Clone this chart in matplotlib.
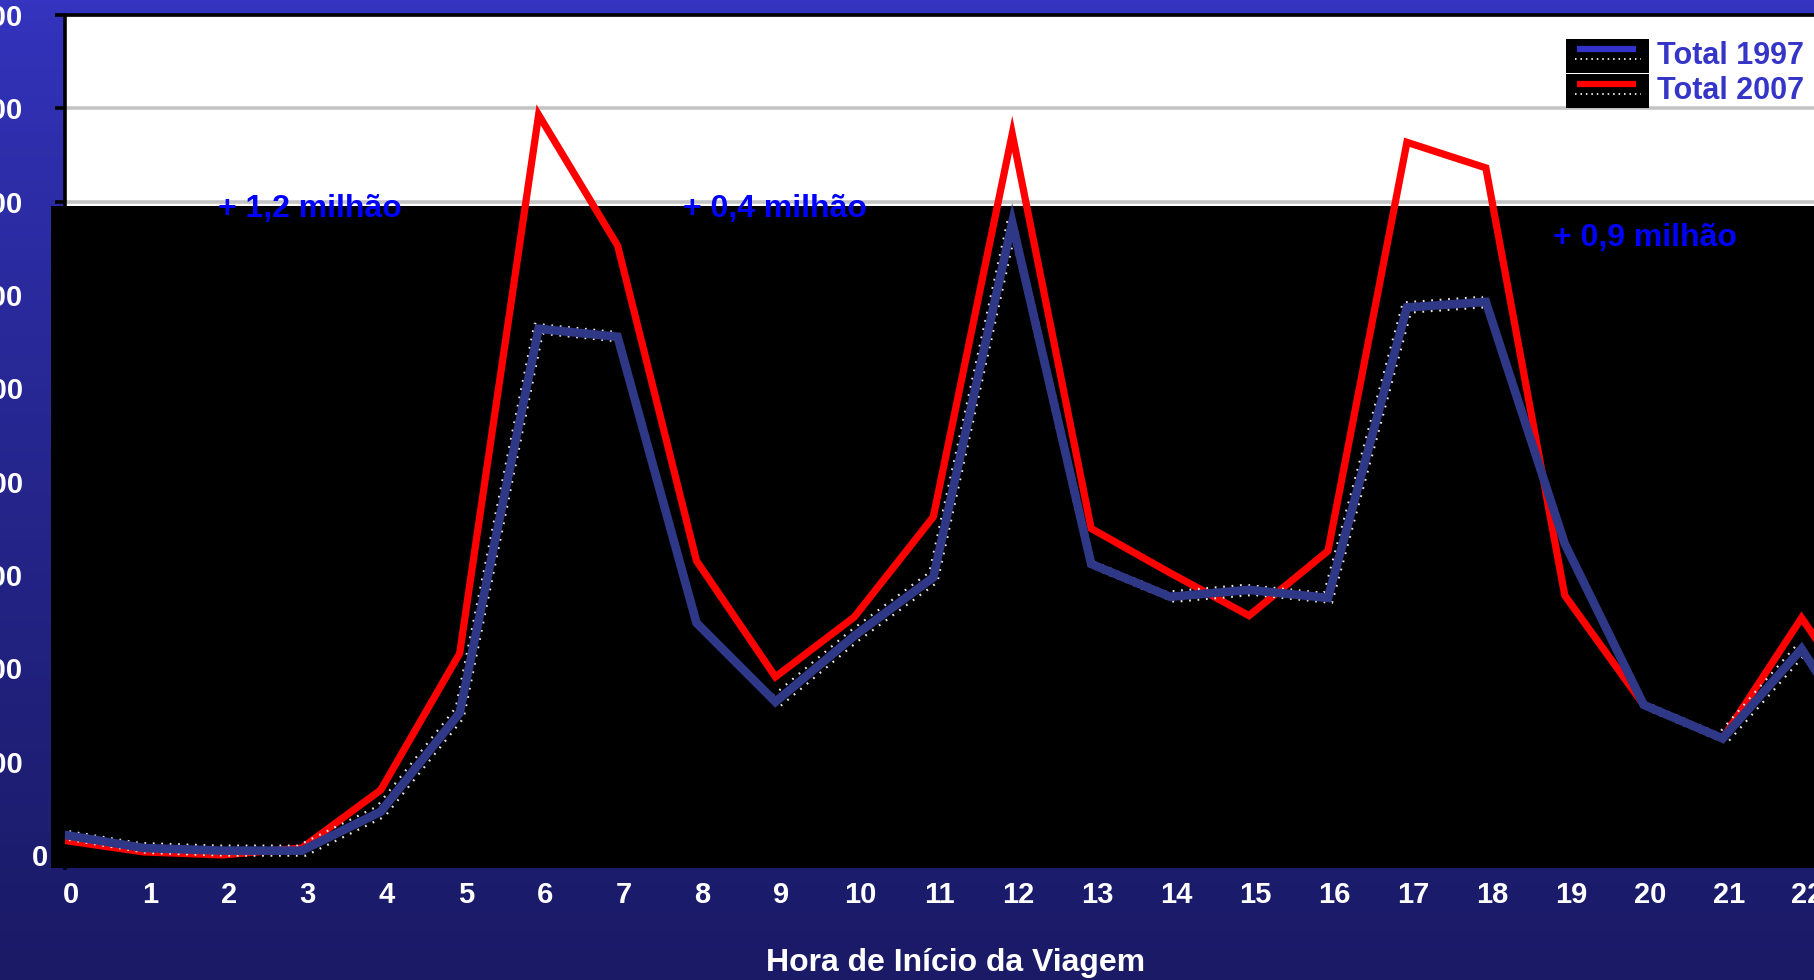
import numpy as np
import matplotlib
matplotlib.use("Agg")
import matplotlib.pyplot as plt
from matplotlib.patches import Rectangle
from matplotlib.lines import Line2D
from matplotlib.transforms import ScaledTranslation, blended_transform_factory

plt.rcParams['font.family'] = ['Liberation Sans', 'DejaVu Sans']
plt.rcParams['font.weight'] = 'bold'

# trips starting in each hour (thousands)
hours = list(range(24))
total_1997 = [107, 37, 23, 23, 232, 761, 2819, 2776, 1243, 820, 1174, 1487,
              3387, 1559, 1383, 1420, 1377, 2933, 2963, 1667, 804, 624, 1104, 450]
total_2007 = [77, 16, 0, 37, 348, 1080, 3965, 3265, 1576, 954, 1275, 1811,
              3863, 1749, 1511, 1282, 1629, 3818, 3681, 1390, 804, 624, 1270, 650]

y_ticks = [0, 500, 1000, 1500, 2000, 2500, 3000, 3500, 4000, 4500]
y_labels = ["0", "500", "1.000", "1.500", "2.000", "2.500", "3.000", "3.500", "4.000", "4.500"]

series_names = ["Total 1997", "Total 2007"]
notes = [(1.94, 3462, "+ 1,2 milhão"), (7.83, 3462, "+ 0,4 milhão"), (18.85, 3307, "+ 0,9 milhão")]

W, H = 1814, 980
fig = plt.figure(figsize=(W / 100, H / 100), dpi=100)

# slide background gradient
bg = fig.add_axes([0, 0, 1, 1], zorder=-10)
grad = np.linspace(0, 1, 256).reshape(-1, 1)
top = np.array([0x34, 0x34, 0xC0]) / 255
bot = np.array([0x1A, 0x1A, 0x66]) / 255
img = top + (bot - top) * grad[..., None] ** 0.8
bg.imshow(img, aspect='auto', extent=[0, 1, 0, 1])
bg.set_axis_off()

ax = fig.add_axes([65 / W, 112 / H, 1855 / W, 853 / H])
ax.set_facecolor('white')
ax.set_xlim(0, 23.5)
ax.set_ylim(-70, 4500)

ax.set_axisbelow(True)
ax.yaxis.grid(True, color='#C4C4C4', lw=2.6)

# black plotting region
tr = blended_transform_factory(ax.transAxes, ax.transData)
ax.add_patch(Rectangle((-0.0075, -70), 1.0075, 3478 + 70, transform=tr,
                       facecolor='black', edgecolor='none', zorder=1, clip_on=False))

ax.plot(hours, total_2007, color='#FF0000', lw=5.2, zorder=3, solid_joinstyle='miter')
for dx, dy in [(4, -5), (-4, 5)]:
    off = ScaledTranslation(dx / 100, dy / 100, fig.dpi_scale_trans)
    ax.plot(hours, total_1997, color='#E6E6E6', lw=1.6, linestyle=(0, (0.8, 3)),
            transform=ax.transData + off, zorder=3.5)
ax.plot(hours, total_1997, color='#2F3787', lw=6.2, zorder=4, solid_joinstyle='miter')

for x, y, s in notes:
    ax.text(x, y, s, color='#0000FF', fontsize=23, fontweight='bold',
            ha='left', va='center', zorder=5)

for side in ['right', 'bottom']:
    ax.spines[side].set_visible(False)
for side in ['left', 'top']:
    ax.spines[side].set_color('black')
    ax.spines[side].set_linewidth(2.6)
    ax.spines[side].set_zorder(2.5)

ax.set_xticks(hours[:23])
ax.set_xticklabels([str(h) for h in hours[:23]])
ax.tick_params(axis='x', length=0, pad=9, labelsize=21, labelcolor='white')
ax.set_yticks(y_ticks)
ax.set_yticklabels(y_labels)
ax.tick_params(axis='y', direction='out', length=7.5, width=2.6, color='black',
               pad=5, labelsize=21, labelcolor='white')
for lab in ax.get_xticklabels():
    lab.set_transform(lab.get_transform() + ScaledTranslation(0.06, 0, fig.dpi_scale_trans))
for lab in ax.get_yticklabels()[1:]:
    lab.set_transform(lab.get_transform() + ScaledTranslation(-0.25, 0, fig.dpi_scale_trans))

ax.set_xlabel("Hora de Início da Viagem", color='white', fontsize=23, fontweight='bold')
ax.xaxis.set_label_coords(0.48, -0.111)
ax.xaxis.label.set_va('center')

# legend, drawn by hand with black swatch boxes
colors = ['#3333CC', '#FF0000']
for i, (name, c) in enumerate(zip(series_names, colors)):
    y0 = 1 - (73 + 35 * i) / H
    fig.patches.append(Rectangle((1566 / W, y0), 83 / W, 34 / H, transform=fig.transFigure,
                                 facecolor='black', edgecolor='none', zorder=6))
    yl = y0 + 24 / H
    fig.lines.append(Line2D([1577 / W, 1636 / W], [yl, yl], transform=fig.transFigure,
                            color=c, lw=4.5, solid_capstyle='butt', zorder=7))
    yd = y0 + 14 / H
    fig.lines.append(Line2D([1575 / W, 1641 / W], [yd, yd], transform=fig.transFigure,
                            color='#E0E0E0', lw=1.4, linestyle=(0, (0.8, 2)), zorder=7))
    fig.text(1657 / W, y0 + 17 / H, name, color='#3535C8', fontsize=22,
             fontweight='bold', ha='left', va='center', zorder=7)

fig.savefig('out.png', dpi=100)
